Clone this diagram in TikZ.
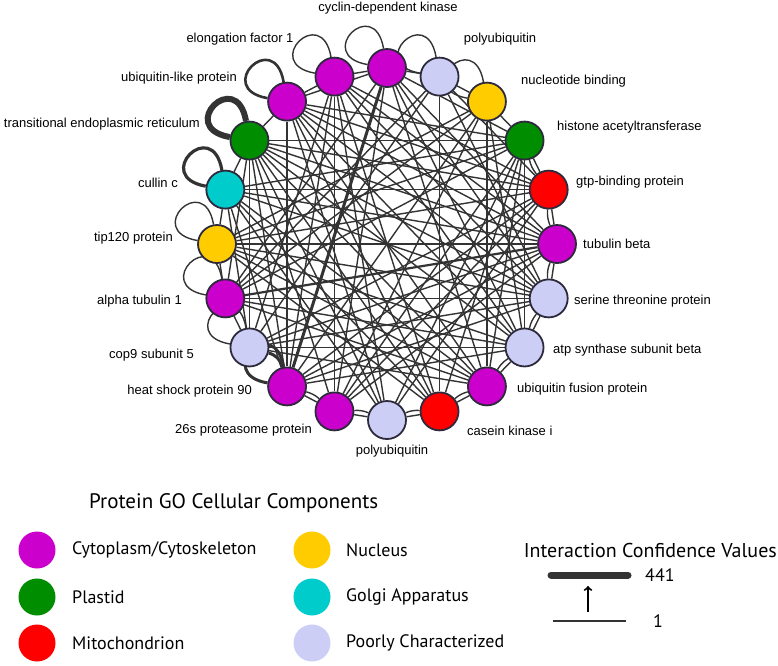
\documentclass[tikz,border=0pt]{standalone}
\usepackage{fontspec}
\setmainfont{Liberation Sans}
\newfontfamily\legfont{PT Sans}
\pgfdeclarelayer{bg}
\pgfsetlayers{bg,main}

\definecolor{cyto}{RGB}{204,0,204}
\definecolor{plas}{RGB}{0,142,0}
\definecolor{mito}{RGB}{255,0,0}
\definecolor{nucl}{RGB}{255,204,0}
\definecolor{golg}{RGB}{0,204,204}
\definecolor{poor}{RGB}{205,206,245}
\definecolor{edgegray}{RGB}{51,51,51}
\definecolor{rimgray}{RGB}{45,42,60}

\begin{document}
\begin{tikzpicture}[x=1pt,y=1pt,>=to,line join=round]
  \tikzstyle{prot}=[circle, draw=rimgray, line width=1.8pt, minimum size=38pt, inner sep=0pt]
  \tikzstyle{lbl}=[font=\fontsize{13}{15}\selectfont, inner sep=0pt]
  \tikzstyle{ppi}=[draw=edgegray, line width=1.4pt]
  \tikzstyle{dot}=[circle, minimum size=37pt, inner sep=0pt]
  \tikzstyle{legtxt}=[font=\legfont\fontsize{18}{21}\selectfont, anchor=west, inner sep=0pt]

  \useasboundingbox (0,0) rectangle (778,-665);

  % proteins on the ring
  \foreach \a/\n/\c in {90/cdk/cyto, 72/pubA/poor, 54/nucb/nucl, 36/hat/plas, 18/gtp/mito,
      0/tubb/cyto, -18/stp/poor, -36/atp/poor, -54/ufp/cyto, -72/cki/mito, -90/pubB/poor,
      -108/prot/cyto, -126/hsp/cyto, -144/cop/poor, -162/atub/cyto, 180/tip/nucl,
      162/cul/golg, 144/ter/plas, 126/ubl/cyto, 108/ef/cyto} {
    \node[prot, fill=\c] (\n) at ([shift={(387,-244)}]\a:170 and 176) {};
  }

  \node[lbl] (cdkL) at (388,-8) {cyclin-dependent kinase};
  \node[lbl] (efL) at (240,-39) {elongation factor 1};
  \node[lbl] (pubAL) at (500,-39) {polyubiquitin};
  \node[lbl, anchor=west] (nucbL) at (521,-81) {nucleotide binding};
  \node[lbl, anchor=west] (hatL) at (557,-127) {histone acetyltransferase};
  \node[lbl, anchor=west] (gtpL) at (576,-182) {gtp-binding protein};
  \node[lbl, anchor=west] (tubbL) at (583,-244) {tubulin beta};
  \node[lbl, anchor=west] (stpL) at (574,-301) {serine threonine protein};
  \node[lbl, anchor=west] (atpL) at (553,-350) {atp synthase subunit beta};
  \node[lbl, anchor=west] (ufpL) at (517,-389) {ubiquitin fusion protein};
  \node[lbl, anchor=west] (ckiL) at (467,-431) {casein kinase i};
  \node[lbl] (pubBL) at (392,-451) {polyubiquitin};
  \node[lbl, anchor=east] (protL) at (312,-430) {26s proteasome protein};
  \node[lbl, anchor=east] (hspL) at (252,-391) {heat shock protein 90};
  \node[lbl, anchor=east] (copL) at (194,-355) {cop9 subunit 5};
  \node[lbl, anchor=east] (atubL) at (182,-301) {alpha tubulin 1};
  \node[lbl, anchor=east] (tipL) at (173,-238) {tip120 protein};
  \node[lbl, anchor=east] (culL) at (178,-183) {cullin c};
  \node[lbl, anchor=east] (terL) at (200,-124) {transitional endoplasmic reticulum};
  \node[lbl, anchor=east] (ublL) at (237,-78) {ubiquitin-like protein};

  \begin{pgfonlayer}{bg}
    % interactions
    \foreach \p/\q in {ter/cop, ter/tubb, ter/stp, ter/atp, ter/ufp, ter/cki, ter/pubB, ter/prot,
        ter/hsp, ter/gtp, ter/hat, ter/atub, ter/cul,
        cul/tubb, cul/stp, cul/ufp, cul/cki, cul/pubB, cul/hsp, cul/gtp, cul/hat,
        cul/cop, cul/tip,
        tip/tubb, tip/stp, tip/atp, tip/ufp, tip/cki, tip/gtp, tip/hat, tip/nucb,
        tip/atub,
        atub/stp, atub/atp, atub/ufp, atub/hat, atub/nucb, atub/pubA, atub/cdk, atub/cop,
        cop/stp, cop/atp, cop/tubb, cop/gtp, cop/pubA, cop/ef, cop/ufp,
        hsp/ubl, hsp/ef, hsp/nucb, hsp/gtp, hsp/tubb, hsp/stp, hsp/atp,
        prot/ef, prot/cdk, prot/nucb, prot/hat, prot/gtp, prot/tubb,
        pubB/ubl, pubB/ef, pubB/hat, pubB/gtp,
        cki/pubA, cki/ubl, cki/ef, cki/hat,
        ufp/nucb, ufp/ubl, ufp/cdk, ufp/hat,
        atp/hat, atp/ubl, atp/ef, atp/cdk, atp/nucb,
        stp/ubl, stp/ef, stp/cdk, stp/pubA,
        tubb/ubl, tubb/ef, tubb/cdk, gtp/ubl, gtp/ef, gtp/pubA, hat/ubl, hat/cdk,
        ubl/ef, ef/cdk, cdk/pubA, pubA/nucb, nucb/hat, hat/gtp, gtp/tubb, tubb/stp, stp/atp,
        atp/ufp, ufp/cki, cki/pubB, pubB/prot, prot/hsp, ter/ubl, ubl/cdk} {
      \draw[ppi] (\p) -- (\q);
    }
    \foreach \p/\q in {hat/gtp, gtp/tubb, tubb/stp, stp/atp, atp/ufp, ufp/cki, cki/pubB, pubB/prot, prot/hsp} {
      \draw[ppi] (\p) to[bend right=12] (\q);
    }
    \draw[ppi, line width=3pt] (cdk) -- (hsp);
    \draw[ppi, line width=2.2pt] (atub) -- (tubb);
    \draw[ppi, line width=3pt] (cop) to[bend left=30] (hsp);
    % self interactions
    \foreach \n/\w in {ef/1.4, cdk/1.4, pubA/1.4, nucb/1.4, tip/1.4, atub/1.4, cop/1.4,
        ubl/2.6, cul/3.2, ter/6, hsp/3} {
      \draw[draw=edgegray, line width=\w pt] (\n.100) .. controls +(100:55) and +(170:55) .. (\n.170);
    }
  \end{pgfonlayer}

  % legend
  \node[font=\legfont\fontsize{21}{25}\selectfont, anchor=west, inner sep=0pt] (legT) at (89,-503) {Protein GO Cellular Components};
  \node[dot, fill=cyto] (kCyto) at (37,-550) {};
  \node[dot, fill=plas] (kPlas) at (37,-597) {};
  \node[dot, fill=mito] (kMito) at (37,-643) {};
  \node[dot, fill=nucl] (kNucl) at (312,-550) {};
  \node[dot, fill=golg] (kGolg) at (312,-597) {};
  \node[dot, fill=poor] (kPoor) at (312,-643) {};
  \node[legtxt] (tCyto) at (72,-550) {Cytoplasm/Cytoskeleton};
  \node[legtxt] (tPlas) at (72,-597) {Plastid};
  \node[legtxt] (tMito) at (72,-643) {Mitochondrion};
  \node[legtxt] (tNucl) at (346,-550) {Nucleus};
  \node[legtxt] (tGolg) at (346,-597) {Golgi Apparatus};
  \node[legtxt] (tPoor) at (346,-643) {Poorly Characterized};

  \node[legtxt, font=\legfont\fontsize{20}{24}\selectfont, anchor=east] (icv) at (777,-550) {Interaction Confidence Values};
  \coordinate (hiA) at (551,-575);
  \coordinate (hiB) at (628,-575);
  \coordinate (loA) at (553,-621);
  \coordinate (loB) at (626,-621);
  \coordinate (arA) at (588,-612);
  \coordinate (arB) at (588,-586);
  \draw[edgegray, line width=7pt, line cap=round] (hiA) -- (hiB);
  \draw[edgegray, line width=1.3pt] (loA) -- (loB);
  \draw[->, black, line width=2pt] (arA) -- (arB);
  \node[legtxt] (hiV) at (645,-575) {441};
  \node[legtxt, anchor=center] (loV) at (658,-621) {1};
\end{tikzpicture}
\end{document}
